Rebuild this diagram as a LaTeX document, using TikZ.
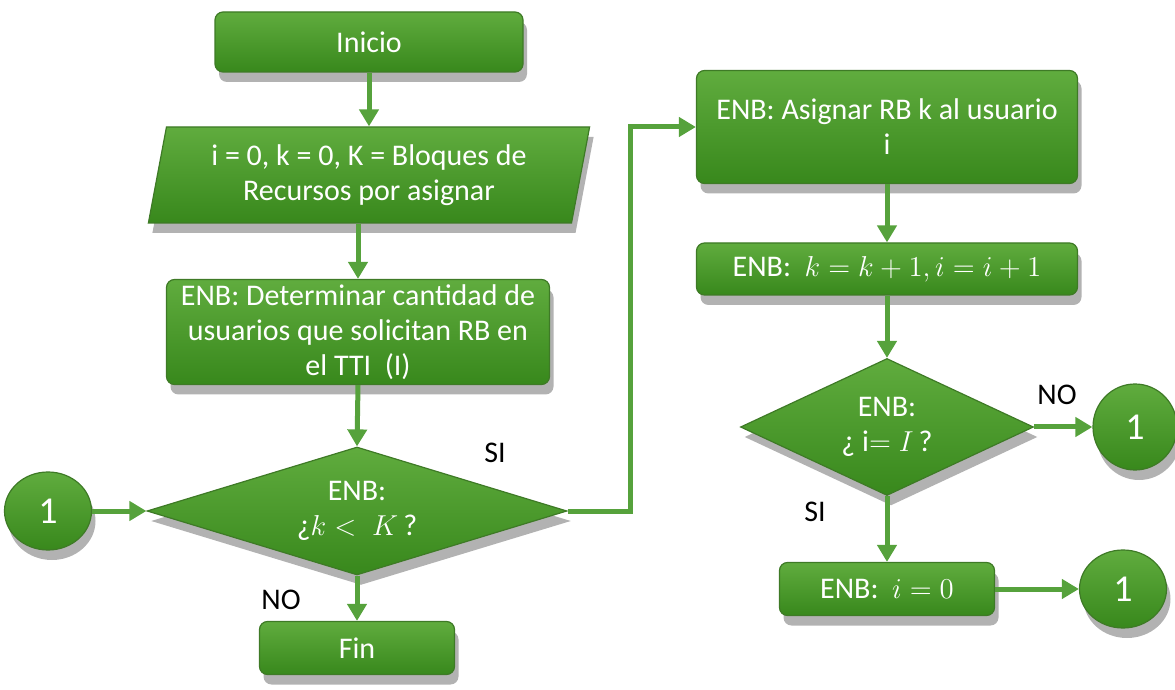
\documentclass[tikz,border=0pt]{standalone}
\usepackage{fontspec}
\setmainfont{Carlito}
\usetikzlibrary{shapes.geometric,arrows.meta,shadows}
\definecolor{gtop}{RGB}{96,172,62}
\definecolor{gbot}{RGB}{56,136,28}
\definecolor{gline}{RGB}{86,162,60}
\definecolor{gedge}{RGB}{62,122,38}
\begin{document}
\begin{tikzpicture}[x=0.5pt,y=-0.5pt,
  base/.style={top color=gtop,bottom color=gbot,draw=gedge,line width=0.6pt,
    text=white,font=\fontsize{15}{17.5}\selectfont,align=center,inner sep=0pt,
    drop shadow={shadow xshift=2pt,shadow yshift=-5pt,opacity=0.3,fill=black}},
  box/.style={base,rectangle,rounded corners=4pt},
  dec/.style={base,diamond},
  conn/.style={base,ellipse,font=\fontsize{19}{22}\selectfont},
  lbl/.style={font=\fontsize{15}{17.5}\selectfont,text=black},
  arr/.style={draw=gline,line width=2.5pt,-{Triangle[width=9.5pt,length=8.5pt]}}
]
\useasboundingbox (0,0) rectangle (1175,690);

\node[box,minimum width=154pt,minimum height=30pt] (ini) at (369,42) {Inicio};
\node[base,trapezium,trapezium left angle=77,trapezium right angle=103,
      trapezium stretches=true,minimum width=221pt,minimum height=48pt] (par) at (369,175)
      {i = 0, k = 0, K = Bloques de\\Recursos por asignar};
\node[box,minimum width=191.5pt,minimum height=52.5pt] (det) at (358,332)
      {ENB: Determinar cantidad de\\usuarios que solicitan RB en\\el TTI~~(I)};
\node[dec,aspect=3.28,minimum width=210pt,minimum height=64pt] (d1) at (357,511)
      {ENB:\\ ¿$k<\;K$\,?};
\node[box,minimum width=97.5pt,minimum height=26.5pt] (fin) at (357,648) {Fin};
\node[conn,minimum width=43.5pt,minimum height=39pt] (c0) at (48,511) {1};

\node[box,minimum width=190.5pt,minimum height=56.5pt] (a1) at (887,127)
      {ENB: Asignar RB k al usuario\\i};
\node[box,minimum width=190.5pt,minimum height=26pt] (a2) at (887,269)
      {ENB:\ \ $k=k+1,i=i+1$};
\node[dec,aspect=2.14,minimum width=146.5pt,minimum height=68.5pt] (d2) at (887,427)
      {ENB:\\ ¿ i$=I$\,?};
\node[conn,minimum width=42pt,minimum height=43pt] (c1) at (1135,427) {1};
\node[box,minimum width=107.5pt,minimum height=26.5pt] (a3) at (887,589)
      {ENB:\ \ $i=0$};
\node[conn,minimum width=43.5pt,minimum height=39pt] (c2) at (1123,589) {1};

\node[lbl] (si1) at (495,453) {SI};
\node[lbl] (no1) at (281,600) {NO};
\node[lbl] (no2) at (1057,395) {NO};
\node[lbl] (si2) at (815,512) {SI};

\draw[arr] (ini.south) -- (ini.south |- par.north);
\draw[arr] (par.south -| det.north) -- (det.north);
\draw[arr] (det.south) -- (d1.north);
\draw[arr] (d1.south) -- (fin.north);
\draw[arr] (c0.east) -- (d1.west);
\draw[arr] (d1.east) -- ++(63,0) |- (a1.west);
\draw[arr] (a1.south) -- (a2.north);
\draw[arr] (a2.south) -- (d2.north);
\draw[arr] (d2.east) -- (c1.west);
\draw[arr] (d2.south) -- (a3.north);
\draw[arr] (a3.east) -- (c2.west);
\end{tikzpicture}
\end{document}
